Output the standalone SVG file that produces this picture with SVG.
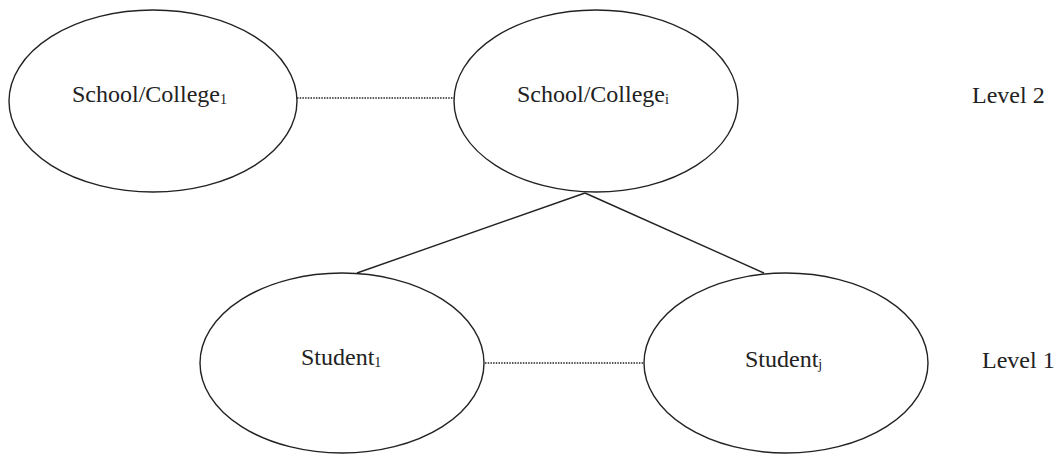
<svg xmlns="http://www.w3.org/2000/svg" width="1059" height="455" viewBox="0 0 1059 455">
<style>
.node{fill:#fff;stroke:#222;stroke-width:1.4}
.lbl{font-family:"Liberation Serif","Times New Roman",serif;font-size:24px;fill:#222}
.sub{font-size:14px}
.dot{stroke:#222;stroke-width:1.6;stroke-dasharray:1.5 1.2;fill:none}
.solid{stroke:#222;stroke-width:1.4;fill:none}
</style>
<rect width="1059" height="455" fill="#fff"/>
<g id="connectors">
<line class="dot" x1="297" y1="98" x2="455" y2="98"/>
<line class="dot" x1="485" y1="363" x2="645" y2="363"/>
<line class="solid" x1="585" y1="193" x2="357" y2="273"/>
<line class="solid" x1="585" y1="193" x2="764" y2="273"/>
</g>
<g id="school1">
<ellipse class="node" cx="153" cy="101" rx="144" ry="91"/>
<text class="lbl" x="72" y="102">School/College<tspan class="sub" dy="2">1</tspan></text>
</g>
<g id="schooli">
<ellipse class="node" cx="596" cy="101" rx="142" ry="91"/>
<text class="lbl" x="517" y="102">School/College<tspan class="sub" dy="2">i</tspan></text>
</g>
<g id="student1">
<ellipse class="node" cx="342" cy="363" rx="142" ry="90"/>
<text class="lbl" x="301" y="365">Student<tspan class="sub" dy="2">1</tspan></text>
</g>
<g id="studentj">
<ellipse class="node" cx="786" cy="363" rx="142" ry="90"/>
<text class="lbl" x="745" y="367">Student<tspan class="sub" dy="2">j</tspan></text>
</g>
<g id="levels">
<text class="lbl" x="972" y="103">Level 2</text>
<text class="lbl" x="982" y="368">Level 1</text>
</g>
</svg>
